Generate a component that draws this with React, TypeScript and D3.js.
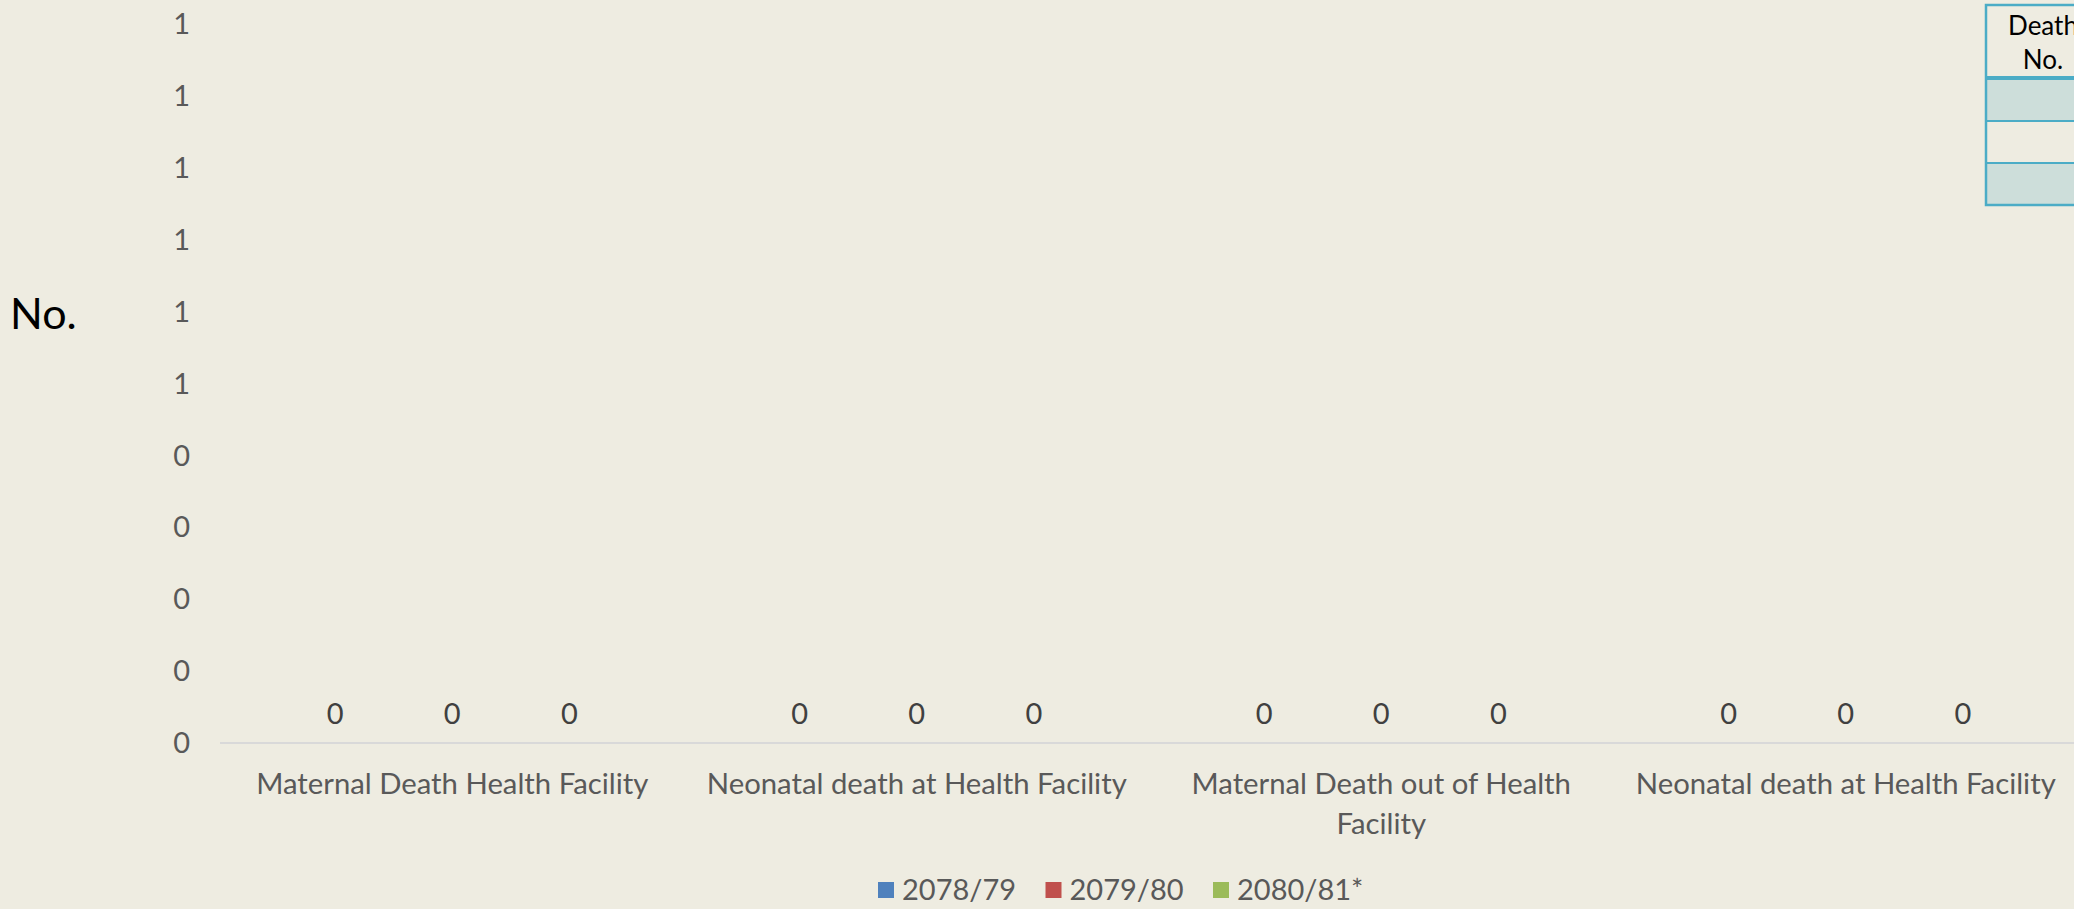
import React, { useEffect, useRef } from "react";
import * as d3 from "d3";

const categories = [
  "Maternal Death Health Facility",
  "Neonatal death at Health Facility",
  "Maternal Death out of Health Facility",
  "Neonatal death at Health Facility ",
];
const seriesNames = ["2078/79", "2079/80", "2080/81*"];
const values2078 = [0, 0, 0, 0];
const values2079 = [0, 0, 0, 0];
const values2080 = [0, 0, 0, 0];
const seriesColors = ["#4F81BD", "#C0504D", "#9BBB59"];
const yTicks = [0, 0.1, 0.2, 0.3, 0.4, 0.5, 0.6, 0.7, 0.8, 0.9, 1];
const tableHeader = ["Death", "No."];
const tableRows = ["", "", ""];

const W = 2074;
const H = 909;
const FONT = "Lato, 'Open Sans', sans-serif";

export default function App() {
  const ref = useRef<SVGSVGElement | null>(null);

  useEffect(() => {
    const svg = d3.select(ref.current);
    svg.selectAll("*").remove();

    svg.append("rect").attr("width", W).attr("height", H).attr("fill", "#EEECE1");

    const margin = { top: 24, left: 220, bottom: 743 };
    const x0 = d3.scaleBand<string>()
      .domain(categories)
      .range([margin.left, 2078])
      .paddingInner(0.244)
      .paddingOuter(0.122);
    const x1 = d3.scaleBand<string>()
      .domain(seriesNames)
      .range([0, x0.bandwidth()]);
    const y = d3.scaleLinear().domain([0, 1]).range([margin.bottom, margin.top]);
    const fmt = d3.format(".0f");

    const data = [values2078, values2079, values2080];

    // y tick labels
    svg.append("g")
      .selectAll("text")
      .data(yTicks)
      .join("text")
      .attr("x", 190)
      .attr("y", d => y(d))
      .attr("dy", "0.35em")
      .attr("text-anchor", "end")
      .attr("font-family", FONT)
      .attr("font-size", 29)
      .attr("fill", "#595959")
      .text(d => fmt(d));

    // y axis title
    svg.append("text")
      .attr("x", 10)
      .attr("y", 314)
      .attr("dy", "0.35em")
      .attr("font-family", FONT)
      .attr("font-size", 43)
      .attr("fill", "#000")
      .text("No.");

    // bars + value labels
    const groups = svg.append("g")
      .selectAll("g")
      .data(categories)
      .join("g")
      .attr("transform", d => "translate(" + x0(d) + ",0)");

    groups.selectAll("rect")
      .data((c, i) => seriesNames.map((s, j) => ({ s, v: data[j][i], j })))
      .join("rect")
      .attr("x", d => x1(d.s)! + x1.bandwidth() * 0.1)
      .attr("width", x1.bandwidth() * 0.8)
      .attr("y", d => y(d.v))
      .attr("height", d => y(0) - y(d.v))
      .attr("fill", d => seriesColors[d.j]);

    groups.selectAll("text")
      .data((c, i) => seriesNames.map((s, j) => ({ s, v: data[j][i] })))
      .join("text")
      .attr("x", d => x1(d.s)! + x1.bandwidth() / 2)
      .attr("y", d => y(d.v) - 29)
      .attr("dy", "0.35em")
      .attr("text-anchor", "middle")
      .attr("font-family", FONT)
      .attr("font-size", 29)
      .attr("fill", "#404040")
      .text(d => fmt(d.v));

    // x axis line
    svg.append("line")
      .attr("x1", margin.left)
      .attr("x2", W)
      .attr("y1", y(0))
      .attr("y2", y(0))
      .attr("stroke", "#D9D9D9")
      .attr("stroke-width", 2);

    // category labels, wrapped
    const catLabels = svg.append("g")
      .selectAll("text")
      .data(categories)
      .join("text")
      .attr("x", d => x0(d)! + x0.bandwidth() / 2)
      .attr("y", 784)
      .attr("text-anchor", "middle")
      .attr("font-family", FONT)
      .attr("font-size", 29.3)
      .attr("fill", "#595959");

    catLabels.each(function (d) {
      const text = d3.select(this);
      const words = d.trim().split(/\s+/);
      const cx = +text.attr("x");
      let line: string[] = [];
      let tspan = text.append("tspan").attr("x", cx).attr("dy", "0.35em");
      for (const w of words) {
        line.push(w);
        tspan.text(line.join(" "));
        if ((tspan.node() as SVGTSpanElement).getComputedTextLength() > 440 && line.length > 1) {
          line.pop();
          tspan.text(line.join(" "));
          line = [w];
          tspan = text.append("tspan").attr("x", cx).attr("dy", "40").text(w);
        }
      }
    });

    // legend
    const legend = svg.append("g")
      .selectAll("g")
      .data(seriesNames)
      .join("g")
      .attr("transform", (d, i) => "translate(" + (878 + i * 167.5) + ",890)");
    legend.append("rect")
      .attr("x", 0)
      .attr("y", -8)
      .attr("width", 16)
      .attr("height", 16)
      .attr("fill", (d, i) => seriesColors[i]);
    legend.append("text")
      .attr("x", 24)
      .attr("dy", "0.35em")
      .attr("font-family", FONT)
      .attr("font-size", 29)
      .attr("fill", "#595959")
      .text(d => d);

    // data table peeking in at top right
    const tx = 1986;
    const tw = 130;
    const table = svg.append("g");
    table.append("rect")
      .attr("x", tx).attr("y", 5).attr("width", tw).attr("height", 73)
      .attr("fill", "#EEECE1");
    tableRows.forEach((r, i) => {
      table.append("rect")
        .attr("x", tx)
        .attr("y", 79 + i * 42)
        .attr("width", tw)
        .attr("height", 42)
        .attr("fill", i % 2 === 0 ? "#CDDEDA" : "#EEECE1")
        .attr("stroke", "#4BACC6")
        .attr("stroke-width", 2);
    });
    table.append("rect")
      .attr("x", tx).attr("y", 5).attr("width", tw).attr("height", 200)
      .attr("fill", "none")
      .attr("stroke", "#4BACC6")
      .attr("stroke-width", 2.5);
    table.append("line")
      .attr("x1", tx).attr("x2", tx + tw)
      .attr("y1", 78).attr("y2", 78)
      .attr("stroke", "#4BACC6")
      .attr("stroke-width", 4);
    table.selectAll("text.hdr")
      .data(tableHeader)
      .join("text")
      .attr("class", "hdr")
      .attr("x", 2043)
      .attr("y", (d, i) => 26 + i * 34)
      .attr("dy", "0.35em")
      .attr("text-anchor", "middle")
      .attr("font-family", FONT)
      .attr("font-size", 26)
      .attr("fill", "#000")
      .text(d => d);
  }, []);

  return (
    <svg
      ref={ref}
      width={W}
      height={H}
      style={{ position: "absolute", left: 0, top: 0, display: "block" }}
    />
  );
}
